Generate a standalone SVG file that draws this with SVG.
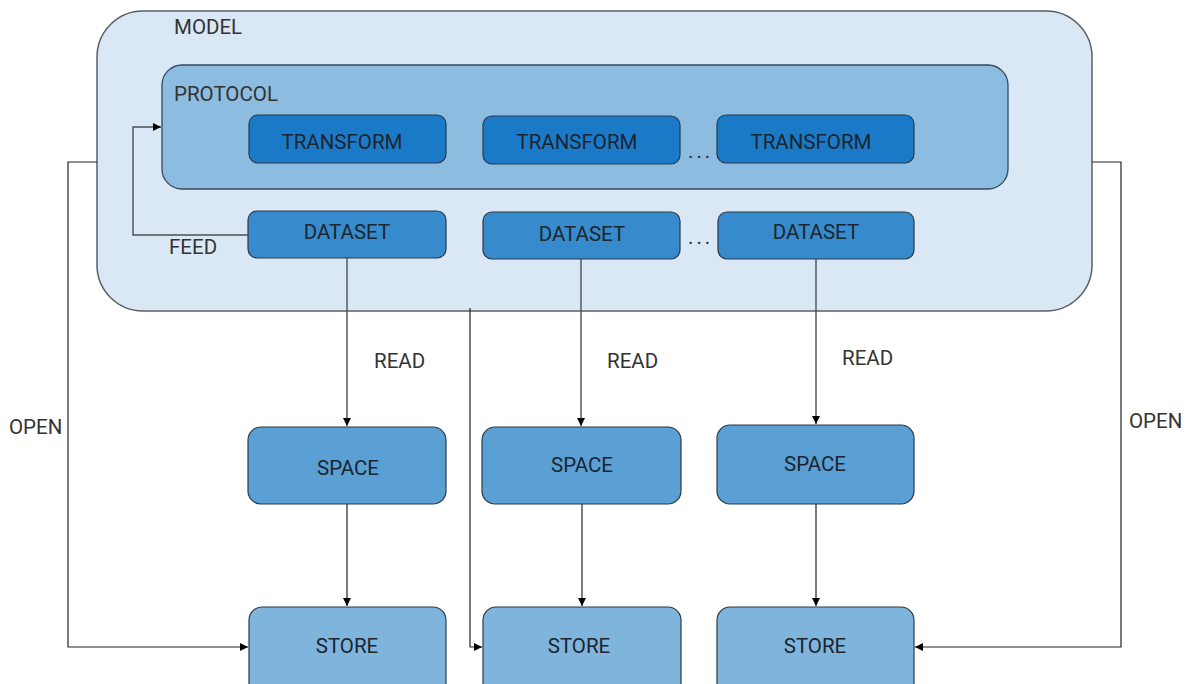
<svg xmlns="http://www.w3.org/2000/svg" width="1190" height="684" viewBox="0 0 1190 684">
  <style>
    text { font-family: Roboto, "Liberation Sans", sans-serif; font-size: 20.5px; }
    .box { stroke: #2b3947; stroke-width: 1.2; }
    .model { fill: #dae8f5; stroke: #5a5f66; stroke-width: 1.5; }
    .protocol { fill: #8dbce1; stroke: #34495e; stroke-width: 1.3; }
    .transform { fill: #1b7ac7; }
    .dataset { fill: #378bcc; }
    .space { fill: #5aa0d4; }
    .store { fill: #7fb4dd; }
    .in { fill: #1c2530; text-anchor: middle; }
    .lbl { fill: #333; }
    .dots { fill: #333; letter-spacing: 3px; }
    .conn { fill: none; stroke: #222; stroke-width: 1.2; }
    .conn-grey { fill: none; stroke: #4a4f55; stroke-width: 1.4; }
  </style>
  <defs>
    <marker id="arrow" viewBox="0 0 10 10" refX="10" refY="5" markerWidth="8" markerHeight="8" markerUnits="userSpaceOnUse" orient="auto">
      <path d="M0,0 L10,5 L0,10 z" fill="#000"/>
    </marker>
  </defs>

  <rect width="1190" height="684" fill="#fff"/>

  <!-- outer model container -->
  <g id="model">
    <rect class="model" x="97" y="11" width="995" height="300" rx="46" ry="46"/>
    <text class="lbl" x="174" y="34">MODEL</text>
  </g>

  <!-- protocol container -->
  <g id="protocol">
    <rect class="protocol" x="162" y="65" width="846" height="124" rx="20" ry="20"/>
    <text class="lbl" x="174" y="101">PROTOCOL</text>
  </g>

  <g id="transform-1">
    <rect class="box transform" x="249" y="115" width="197" height="48" rx="9"/>
    <text class="in" x="342" y="149">TRANSFORM</text>
  </g>
  <g id="transform-2">
    <rect class="box transform" x="483" y="116" width="197" height="48" rx="9"/>
    <text class="in" x="577" y="149">TRANSFORM</text>
  </g>
  <g id="transform-3">
    <rect class="box transform" x="717" y="115" width="197" height="48" rx="9"/>
    <text class="in" x="811" y="149">TRANSFORM</text>
  </g>
  <text class="dots" x="688" y="158">...</text>

  <g id="dataset-1">
    <rect class="box dataset" x="248" y="211" width="198" height="47" rx="9"/>
    <text class="in" x="347" y="239">DATASET</text>
  </g>
  <g id="dataset-2">
    <rect class="box dataset" x="483" y="212" width="197" height="47" rx="9"/>
    <text class="in" x="582" y="240.5">DATASET</text>
  </g>
  <g id="dataset-3">
    <rect class="box dataset" x="718" y="212" width="196" height="47" rx="9"/>
    <text class="in" x="816" y="239">DATASET</text>
  </g>
  <text class="dots" x="688" y="244">...</text>

  <g id="space-1">
    <rect class="box space" x="248" y="427" width="198" height="77" rx="13"/>
    <text class="in" x="348" y="474.5">SPACE</text>
  </g>
  <g id="space-2">
    <rect class="box space" x="482" y="427" width="199" height="77" rx="13"/>
    <text class="in" x="582" y="472">SPACE</text>
  </g>
  <g id="space-3">
    <rect class="box space" x="717" y="425" width="197" height="79" rx="13"/>
    <text class="in" x="815" y="471">SPACE</text>
  </g>

  <g id="store-1">
    <rect class="box store" x="249" y="607" width="197" height="90" rx="13"/>
    <text class="in" x="347" y="653">STORE</text>
  </g>
  <g id="store-2">
    <rect class="box store" x="483" y="607" width="198" height="90" rx="13"/>
    <text class="in" x="579" y="653">STORE</text>
  </g>
  <g id="store-3">
    <rect class="box store" x="717" y="607" width="197" height="90" rx="13"/>
    <text class="in" x="815" y="653">STORE</text>
  </g>

  <g id="connectors">
    <!-- feed loop back into the protocol -->
    <path class="conn-grey" d="M248,235 H133 V127 H161" marker-end="url(#arrow)"/>
    <!-- dataset reads into spaces -->
    <path class="conn-grey" d="M347,258 V426" marker-end="url(#arrow)"/>
    <path class="conn-grey" d="M581,259 V426" marker-end="url(#arrow)"/>
    <path class="conn-grey" d="M816,259 V424" marker-end="url(#arrow)"/>
    <!-- spaces into stores -->
    <path class="conn" d="M347,504 V606" marker-end="url(#arrow)"/>
    <path class="conn" d="M582,504 V606" marker-end="url(#arrow)"/>
    <path class="conn" d="M816,504 V606" marker-end="url(#arrow)"/>
    <!-- open links from the model -->
    <path class="conn" d="M97,162 H68 V647 H248" marker-end="url(#arrow)"/>
    <path class="conn" d="M470,308 V647 H482" marker-end="url(#arrow)"/>
    <path class="conn" d="M1092,162 H1121 V647 H915" marker-end="url(#arrow)"/>
  </g>

  <g id="labels">
    <text class="lbl" x="169" y="254">FEED</text>
    <text class="lbl" x="374" y="368">READ</text>
    <text class="lbl" x="607" y="368">READ</text>
    <text class="lbl" x="842" y="365">READ</text>
    <text class="lbl" x="9" y="434">OPEN</text>
    <text class="lbl" x="1129" y="428">OPEN</text>
  </g>
</svg>
